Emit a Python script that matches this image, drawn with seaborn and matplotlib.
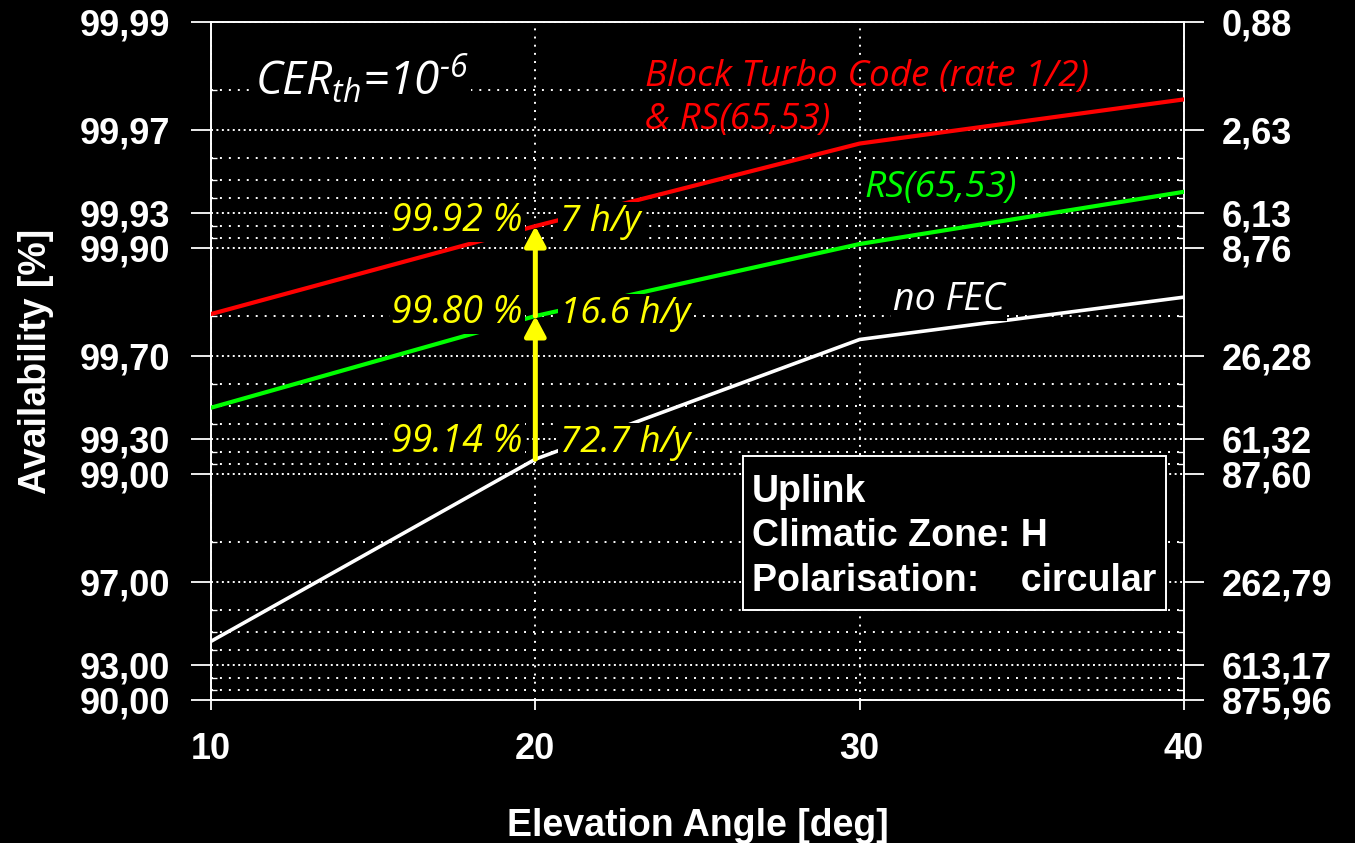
import matplotlib
matplotlib.use("Agg")
import matplotlib.pyplot as plt
from matplotlib.patches import Rectangle
from matplotlib.ticker import FixedLocator, NullFormatter
import pandas as pd
import seaborn as sns

# ---- data -----------------------------------------------------------------
elevation = [10, 20, 30, 40]                       # deg
avail_btc_rs = [99.804, 99.92, 99.9655, 99.978]    # Block Turbo Code (rate 1/2) & RS(65,53)
avail_rs = [99.491, 99.80, 99.904, 99.9436]        # RS(65,53)
avail_nofec = [94.5, 99.14, 99.746, 99.835]        # no FEC
tick_avail = [99.99, 99.97, 99.93, 99.90, 99.70, 99.30, 99.00, 97.00, 93.00, 90.00]
hours_text = ["7 h/y", "16.6 h/y", "72.7 h/y"]     # outage per year at 20 deg
HOURS_PER_YEAR = 8759.6

series_names = ["Block Turbo Code (rate 1/2)\n& RS(65,53)", "RS(65,53)", "no FEC"]
series_avail = [avail_btc_rs, avail_rs, avail_nofec]
series_colors = ["#ff0000", "#00ff00", "#ffffff"]

# ---- style ----------------------------------------------------------------
sns.set_theme(style="dark")
plt.rcParams.update({
    "figure.facecolor": "black",
    "axes.facecolor": "black",
    "savefig.facecolor": "black",
    "axes.edgecolor": "white",
    "text.color": "white",
    "xtick.color": "white",
    "ytick.color": "white",
    "mathtext.fontset": "custom",
    "mathtext.it": "Open Sans:italic",
    "mathtext.rm": "Open Sans:italic",
})
plt.rcParams["font.family"] = ["Liberation Sans", "DejaVu Sans"]

fig = plt.figure(figsize=(13.55, 8.43), dpi=100)
ax = fig.add_axes([211 / 1355, 1 - 700 / 843, 973 / 1355, 678 / 843])


def unavail(values):
    return [100.0 - v for v in values]


# log scale of unavailability, smallest outage at the top
ax.set_yscale("log")
ax.set_xlim(10, 40)
ax.set_ylim(10, 0.01)

major_u = unavail(tick_avail)
minor_u = []
for dec in (0.01, 0.1, 1.0):
    for k in range(2, 10):
        v = round(k * dec, 4)
        if all(abs(v - m) > 1e-6 for m in major_u):
            minor_u.append(v)

ax.yaxis.set_major_locator(FixedLocator(major_u))
ax.yaxis.set_minor_locator(FixedLocator(minor_u))
ax.set_yticklabels([f"{a:.2f}".replace(".", ",") for a in tick_avail])
ax.yaxis.set_minor_formatter(NullFormatter())
ax.set_xticks(elevation)
ax.set_xticklabels([str(e) for e in elevation])

for lab in ax.get_yticklabels() + ax.get_xticklabels():
    lab.set_fontweight("bold")
    lab.set_fontsize(26)

ax.tick_params(axis="y", which="major", direction="out", length=14.4, width=1.3,
               pad=15, left=True, right=False)
ax.tick_params(axis="y", which="minor", direction="in", length=4, width=1.0,
               left=True, right=False)
ax.tick_params(axis="x", which="major", direction="out", length=7, width=1.3,
               pad=16, bottom=True)

# grid
ax.set_axisbelow(True)
ax.grid(False)
ax.grid(True, which="major", axis="y", color="white", linewidth=1.4,
        linestyle=(0, (1, 1.8)))
ax.grid(True, which="minor", axis="y", color="white", linewidth=1.4,
        linestyle=(0, (1, 3.6)))
ax.grid(True, which="major", axis="x", color="white", linewidth=1.4,
        linestyle=(0, (1, 3.2)))

for sp in ax.spines.values():
    sp.set_color("white")
    sp.set_linewidth(1.4)
    sp.set_visible(True)

# right axis: outage hours per year
tw = ax.twinx()
tw.set_yscale("log")
tw.set_ylim(10, 0.01)
tw.yaxis.set_major_locator(FixedLocator(major_u))
tw.yaxis.set_minor_locator(FixedLocator(minor_u))
tw.set_yticklabels([f"{u * HOURS_PER_YEAR / 100:.2f}".replace(".", ",") for u in major_u])
tw.yaxis.set_minor_formatter(NullFormatter())
for lab in tw.get_yticklabels():
    lab.set_fontweight("bold")
    lab.set_fontsize(26)
tw.tick_params(axis="y", which="major", direction="out", length=14.4, width=1.3,
               pad=13, right=True, left=False)
tw.tick_params(axis="y", which="minor", direction="in", length=4, width=1.0,
               right=True, left=False)
tw.grid(False)
for sp in tw.spines.values():
    sp.set_visible(False)

# ---- curves -----------------------------------------------------------------
rows = []
for name, av in zip(series_names, series_avail):
    for e, a in zip(elevation, av):
        rows.append({"elevation": e, "unavailability": 100.0 - a, "series": name})
df = pd.DataFrame(rows)

widths = {series_names[0]: 3.0, series_names[1]: 3.0, series_names[2]: 2.6}
for name, color in zip(series_names, series_colors):
    sub = df[df["series"] == name]
    sns.lineplot(data=sub, x="elevation", y="unavailability", color=color,
                 linewidth=widths[name], ax=ax, zorder=3, legend=False)

ax.set_xlabel("Elevation Angle [deg]", fontsize=27, fontweight="bold", color="white")
ax.set_ylabel("Availability [%]", fontsize=27, fontweight="bold", color="white")
ax.xaxis.set_label_coords(0.5, -0.160)
ax.yaxis.set_label_coords(-0.161, 0.5)
tw.set_ylabel("")

italic = dict(family=["Open Sans", "DejaVu Sans"], style="italic")
black_box = dict(boxstyle="square,pad=0.05", fc="black", ec="none")

# curve labels
ax.text(0.446, 0.945, series_names[0], color=series_colors[0], fontsize=26.6,
        ha="left", va="top", transform=ax.transAxes, linespacing=1.25, zorder=4,
        **italic)
ax.text(0.672, 0.742, series_names[1], color=series_colors[1], fontsize=26.8,
        ha="left", va="baseline", transform=ax.transAxes, zorder=4,
        bbox=black_box, **italic)
ax.text(0.701, 0.575, series_names[2], color=series_colors[2], fontsize=27,
        ha="left", va="baseline", transform=ax.transAxes, zorder=4,
        bbox=black_box, **italic)

# threshold note
ax.text(0.045, 0.892, r"$CER_{th}\text{=}10^{\text{-6}}$", color="white", fontsize=33,
        ha="left", va="baseline", transform=ax.transAxes, zorder=4, bbox=black_box)

# values at 20 deg elevation
i20 = elevation.index(20)
pts = [100.0 - av[i20] for av in series_avail]
dy_pts = [-3.6, -5.0, 5.0]
for av, u, txt, dy in zip(series_avail, pts, hours_text, dy_pts):
    ax.annotate(f"{av[i20]:.2f} %", xy=(20, u), xytext=(-9, dy),
                textcoords="offset points", ha="right", va="baseline",
                color="#ffff00", fontsize=27, zorder=4, bbox=black_box, **italic)
    ax.annotate(txt, xy=(20, u), xytext=(18, dy), textcoords="offset points",
                ha="left", va="baseline", color="#ffff00", fontsize=26.5,
                zorder=4, bbox=black_box, **italic)

# improvement arrows
for lo, hi in [(pts[2], pts[1]), (pts[1], pts[0])]:
    ax.annotate("", xy=(20, hi), xytext=(20, lo),
                arrowprops=dict(arrowstyle="-|>,head_length=0.6,head_width=0.32",
                                color="#ffff00", lw=3.6, mutation_scale=20,
                                shrinkA=0, shrinkB=0),
                zorder=5)

# scenario box
ax.add_patch(Rectangle((0.5468, 0.1327), 0.4347, 0.2272, transform=ax.transAxes,
                       fc="black", ec="white", lw=1.4, zorder=4))
ax.text(0.556, 0.3333, "Uplink\nClimatic Zone: H\nPolarisation:    circular",
        color="white", fontsize=27, fontweight="bold", ha="left", va="top",
        transform=ax.transAxes, linespacing=1.3, zorder=5)

fig.savefig("out.png", dpi=100)
